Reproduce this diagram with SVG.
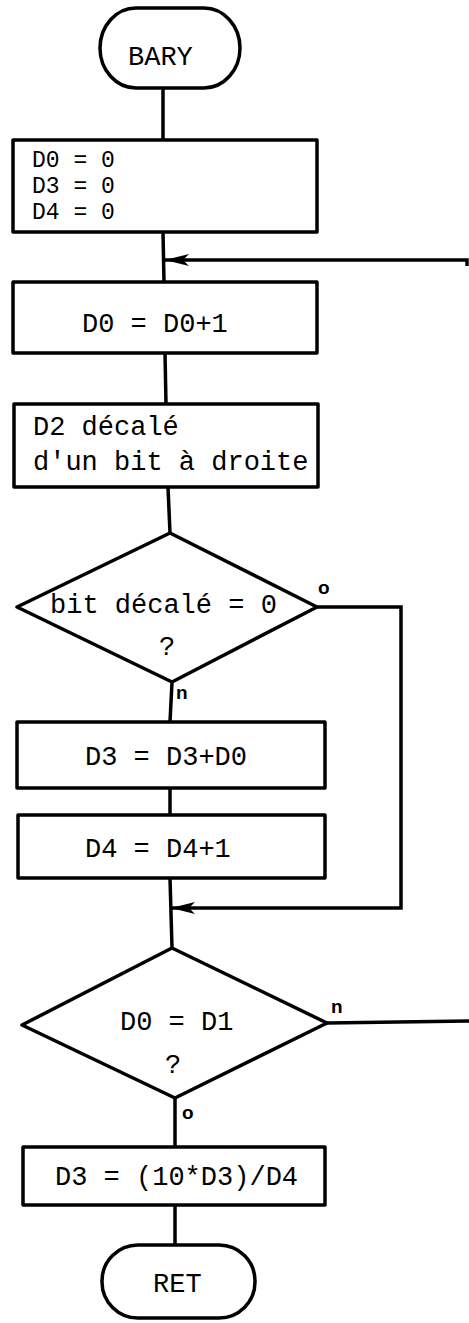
<svg xmlns="http://www.w3.org/2000/svg" width="469" height="1323" viewBox="0 0 469 1323">
<style>
.s{fill:none;stroke:#000;stroke-width:3.5;stroke-linejoin:round}
.c{fill:none;stroke:#000;stroke-width:3.5}
.t{font-family:"Liberation Mono","Courier New",monospace;font-size:27px;fill:#000}
.t2{font-family:"Liberation Mono","Courier New",monospace;font-size:23px;fill:#000}
.l{font-family:"Liberation Sans",Arial,sans-serif;font-weight:bold;font-size:19px;fill:#000}
</style>
<defs>
<marker id="ah" markerUnits="userSpaceOnUse" markerWidth="26" markerHeight="14" refX="24" refY="7" orient="auto">
<path d="M0,1 L24,7 L0,13 L6,7 Z" fill="#000"/>
</marker>
</defs>
<rect width="469" height="1323" fill="#fff"/>
<g id="connectors">
<line class="c" x1="163" y1="88" x2="163" y2="140"/>
<line class="c" x1="163" y1="232" x2="164" y2="282"/>
<line class="c" x1="165" y1="353" x2="166" y2="404"/>
<line class="c" x1="168" y1="487" x2="170" y2="533"/>
<line class="c" x1="172" y1="682" x2="170" y2="722"/>
<line class="c" x1="170" y1="788" x2="170" y2="815"/>
<line class="c" x1="170" y1="878" x2="172" y2="948"/>
<line class="c" x1="175" y1="1098" x2="175" y2="1147"/>
<line class="c" x1="175" y1="1205" x2="175" y2="1245"/>
<polyline class="c" points="467,266 467,260 165,260" marker-end="url(#ah)"/>
<polyline class="c" points="317,607 401,607 401,908 171,908" marker-end="url(#ah)"/>
<line class="c" x1="327" y1="1023" x2="469" y2="1021"/>
<text class="l" x="318" y="594">o</text>
<text class="l" x="176" y="699">n</text>
<text class="l" x="331" y="1013">n</text>
<text class="l" x="182" y="1119">o</text>
</g>
<g id="start">
<rect class="s" x="100" y="8" width="140" height="80" rx="36" ry="40"/>
<text class="t" x="128" y="65">BARY</text>
</g>
<g id="init">
<rect class="s" x="13" y="140" width="304" height="92"/>
<text class="t2" x="32" y="167">D0 = 0</text>
<text class="t2" x="32" y="193">D3 = 0</text>
<text class="t2" x="32" y="219">D4 = 0</text>
</g>
<g id="inc-d0">
<rect class="s" x="13" y="282" width="304" height="71"/>
<text class="t" x="82" y="332">D0 = D0+1</text>
</g>
<g id="shift">
<rect class="s" x="14" y="404" width="304" height="83"/>
<text class="t" x="33" y="435">D2 décalé</text>
<text class="t" x="33" y="470">d'un bit à droite</text>
</g>
<g id="test-bit">
<polygon class="s" points="170,533 317,607 172,682 17,607"/>
<text class="t" x="50" y="613">bit décalé = 0</text>
<text class="t" x="167" y="655" text-anchor="middle">?</text>
</g>
<g id="add-d3">
<rect class="s" x="17" y="722" width="308" height="66"/>
<text class="t" x="85" y="765">D3 = D3+D0</text>
</g>
<g id="inc-d4">
<rect class="s" x="18" y="815" width="307" height="63"/>
<text class="t" x="85" y="857">D4 = D4+1</text>
</g>
<g id="test-end">
<polygon class="s" points="172,948 327,1023 175,1098 22,1025"/>
<text class="t" x="120" y="1030">D0 = D1</text>
<text class="t" x="173" y="1073" text-anchor="middle">?</text>
</g>
<g id="compute">
<rect class="s" x="23" y="1147" width="302" height="58"/>
<text class="t" x="55" y="1185">D3 = (10*D3)/D4</text>
</g>
<g id="end">
<rect class="s" x="102" y="1245" width="153" height="73" rx="36" ry="36"/>
<text class="t" x="153" y="1292">RET</text>
</g>
</svg>
